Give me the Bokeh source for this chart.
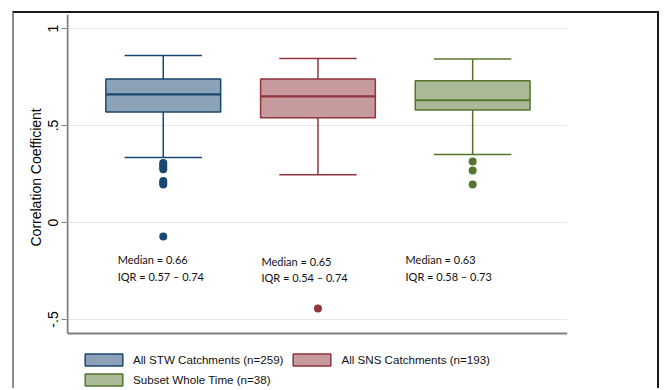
from bokeh.plotting import figure
from bokeh.models import FixedTicker, Legend, LegendItem, Range1d, Title
from bokeh.core.properties import value
from bokeh.embed import file_html
from bokeh.resources import INLINE

# Correlation coefficient distributions per catchment group
groups = ["All STW Catchments (n=259)", "All SNS Catchments (n=193)", "Subset Whole Time (n=38)"]
positions = [1, 2, 3]
q1 = [0.57, 0.54, 0.58]
median = [0.66, 0.65, 0.63]
q3 = [0.74, 0.74, 0.73]
lower_whisker = [0.335, 0.246, 0.35]
upper_whisker = [0.861, 0.845, 0.842]
outliers = [
    [0.306, 0.296, 0.286, 0.274, 0.214, 0.205, 0.196, -0.072],
    [-0.443],
    [0.314, 0.268, 0.196],
]

y_ticks = [-0.5, 0, 0.5, 1]
y_tick_labels = ["-.5", "0", ".5", "1"]
y_title = "Correlation Coefficient"

line_colors = ["#1a476f", "#90353b", "#55752f"]
fill_colors = ["#8ca3b7", "#c79a9d", "#aaba97"]
axis_color = "#7f7f7f"

# plot region limits and the extra room kept below it for the key
X_LO, X_HI = 0.381, 3.613
Y_LO, Y_HI = -0.572, 1.072
Y_KEY_ROOM = -0.866

# annotation placement (offset from each group centre, in axis units)
note_dx = [-0.2945, -0.3655, -0.434]
note_y = [-0.192, -0.200, -0.192]
note_gap = 0.086

BOX_W = 0.742
CAP_W = 0.5

p = figure(
    width=647, height=377,
    output_backend="svg", toolbar_location=None,
    x_range=Range1d(X_LO - 1 / 155, X_HI), y_range=Range1d(Y_KEY_ROOM, Y_HI),
    min_border_left=52, min_border_right=94, min_border_top=1, min_border_bottom=0,
    background_fill_color="white", border_fill_color="white",
)
p.outline_line_color = None
# graph region frame around the canvas
p.styles = {
    "margin-left": "12px", "margin-top": "11px",
    "border-left": "2px solid #8a8a8a",
    "border-top": "2px solid #1a1a1a",
    "border-right": "2px solid #1a1a1a",
}

p.xaxis.visible = False

p.yaxis.ticker = FixedTicker(ticks=y_ticks)
p.yaxis.major_label_overrides = {t: s for t, s in zip(y_ticks, y_tick_labels)}
p.yaxis.major_label_orientation = "vertical"
p.yaxis.major_label_text_font = "Liberation Sans"
p.yaxis.major_label_text_font_size = "14px"
p.yaxis.major_label_text_color = "black"
p.yaxis.major_label_standoff = 3
p.yaxis.major_tick_out = 5
p.yaxis.major_tick_in = 0
p.yaxis.minor_tick_line_color = None
p.yaxis.major_tick_line_color = axis_color
p.yaxis.axis_line_color = None

# y-axis title, centred on the plot region rather than the whole canvas height
p.add_layout(Title(text=y_title, align="left", offset=144, vertical_align="middle",
                   standoff=2, text_font="Liberation Sans", text_font_style="normal",
                   text_font_size="14px", text_color="black"), "left")

p.xgrid.grid_line_color = None
p.ygrid.ticker = FixedTicker(ticks=y_ticks)
p.ygrid.grid_line_color = "#e6e6e6"
p.ygrid.grid_line_width = 1

# axis lines bounding the plot region (left and bottom)
p.segment(x0=[X_LO, X_LO], y0=[Y_LO, Y_LO], x1=[X_LO, X_HI], y1=[Y_HI, Y_LO],
          line_color=axis_color, line_width=2)

items = []
for i, x in enumerate(positions):
    lc, fc = line_colors[i], fill_colors[i]
    # whisker stems and caps
    p.segment(x0=[x, x], y0=[q3[i], q1[i]], x1=[x, x], y1=[upper_whisker[i], lower_whisker[i]],
              line_color=lc, line_width=1.5)
    p.segment(x0=[x - CAP_W / 2] * 2, x1=[x + CAP_W / 2] * 2,
              y0=[upper_whisker[i], lower_whisker[i]], y1=[upper_whisker[i], lower_whisker[i]],
              line_color=lc, line_width=1.5)
    # interquartile box
    box = p.vbar(x=[x], width=BOX_W, top=[q3[i]], bottom=[q1[i]],
                 fill_color=fc, line_color=lc, line_width=1.5)
    # median line
    p.segment(x0=[x - BOX_W / 2], x1=[x + BOX_W / 2], y0=[median[i]], y1=[median[i]],
              line_color=lc, line_width=2.2)
    # outside values
    p.scatter(x=[x] * len(outliers[i]), y=outliers[i], size=8,
              fill_color=lc, line_color=lc, line_width=0)
    items.append(LegendItem(label=groups[i], renderers=[box]))

    # median / IQR note
    p.text(x=[x + note_dx[i]] * 2, y=[note_y[i], note_y[i] - note_gap],
           text=[f"Median = {median[i]:.2f}", f"IQR = {q1[i]:.2f} \u2013 {q3[i]:.2f}"],
           text_font=value("Lato"), text_font_size="11px", text_color="#111111",
           text_baseline="middle", text_align="left")

legend = Legend(items=items, location=(14, 3), orientation="horizontal", ncols=2,
                glyph_width=47, glyph_height=15, label_height=15, label_standoff=6,
                spacing=5, padding=0, margin=0,
                label_text_font="Liberation Sans", label_text_font_size="11.6px",
                label_text_color="#111111",
                border_line_color=None, background_fill_alpha=0)
p.add_layout(legend)

open("out.html", "w").write(file_html(p, INLINE))
